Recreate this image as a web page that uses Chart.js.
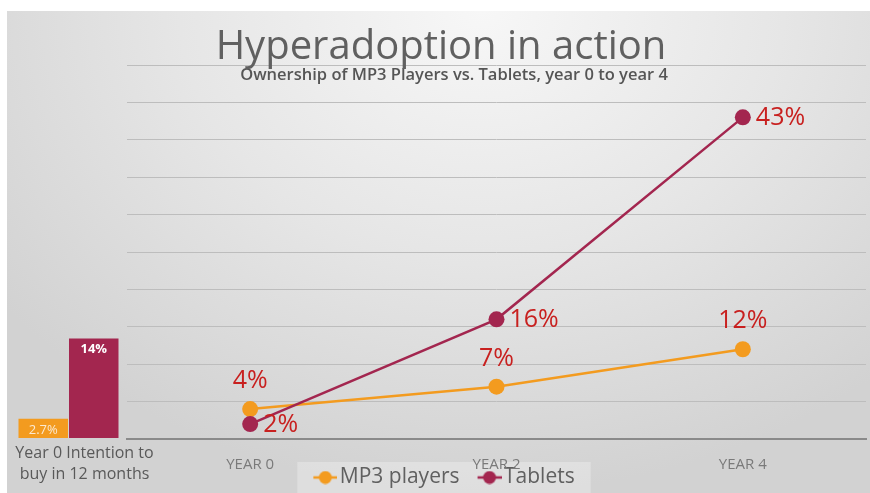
<!DOCTYPE html>
<html>
<head>
<meta charset="utf-8">
<script src="https://cdn.jsdelivr.net/npm/chart.js@4.4.1/dist/chart.umd.min.js"></script>
<style>
  body { margin: 0; background: #ffffff; }
  #wrap { position: relative; width: 870px; height: 493px; overflow: hidden; }
  #slide {
    position: absolute; left: 7px; top: 11px; right: 0; bottom: 0;
    background: radial-gradient(ellipse 70% 100% at 55% 0%, #f7f7f7 0%, #e6e6e6 50%, #d2d2d2 100%);
  }
  canvas { position: absolute; top: 0; left: 0; }
</style>
</head>
<body>
<div id="wrap">
  <div id="slide"></div>
  <canvas id="lineChart" width="870" height="493"></canvas>
  <canvas id="barChart" width="175" height="493"></canvas>
</div>
<script>
// Data
const years = ['YEAR 0', 'YEAR 2', 'YEAR 4'];
const mp3Values = [4, 7, 12];
const tabletValues = [2, 16, 43];

const intentLabel = [['Year 0 Intention to', 'buy in 12 months']];
const intentMp3 = [2.7];
const intentTablets = [14];

const titleText = 'Hyperadoption in action';
const subtitleText = 'Ownership of MP3 Players vs. Tablets, year 0 to year 4';

const orange = '#f39b1f';
const maroon = '#a3264f';
const labelRed = '#c8201f';

// legend marker: line through a dot, drawn at the right end of the canvas
function makeMarker(color) {
    const c = document.createElement('canvas');
    c.width = 50; c.height = 14;
    const g = c.getContext('2d');
    g.strokeStyle = color;
    g.lineWidth = 2.5;
    g.beginPath(); g.moveTo(26, 7); g.lineTo(50, 7); g.stroke();
    g.fillStyle = color;
    g.beginPath(); g.arc(38, 7, 6.5, 0, Math.PI * 2); g.fill();
    return c;
}

// value labels drawn next to each point / bar
const valueLabels = {
    id: 'valueLabels',
    afterDatasetsDraw(chart, args, opts) {
        const ctx = chart.ctx;
        ctx.save();
        chart.data.datasets.forEach((ds, di) => {
            const meta = chart.getDatasetMeta(di);
            const cfg = opts.sets[di];
            ctx.font = cfg.font;
            ctx.fillStyle = cfg.color;
            meta.data.forEach((el, i) => {
                const txt = ds.data[i] + '%';
                if (cfg.where === 'above') {
                    ctx.textAlign = 'center'; ctx.textBaseline = 'middle';
                    ctx.fillText(txt, el.x, el.y - 28);
                } else if (cfg.where === 'right') {
                    ctx.textAlign = 'left'; ctx.textBaseline = 'middle';
                    ctx.fillText(txt, el.x + 13, el.y + 1);
                } else {
                    ctx.textAlign = 'center'; ctx.textBaseline = 'middle';
                    ctx.fillText(txt, el.x, el.y + 11);
                }
            });
        });
        ctx.restore();
    }
};

// x labels may run into the legend strip (no clipping), legend and subtitle nudged, faint box behind legend
const legendBack = {
    id: 'legendBack',
    afterLayout(chart) {
        chart.scales.x.bottom = chart.height;
        const lg = chart.legend;
        lg.top += 5; lg.bottom += 5;
        lg.left -= 6; lg.right -= 6;
        chart.boxes.forEach(b => {
            if (b.options && b.options.text === subtitleText) {
                b.left += 13; b.right += 13;
            }
        });
    },
    beforeDraw(chart) {
        const lg = chart.legend;
        if (!lg || !lg.legendHitBoxes.length) return;
        const hb = lg.legendHitBoxes;
        const x0 = Math.min(...hb.map(h => h.left)) + 2;
        const x1 = Math.max(...hb.map(h => h.left + h.width)) + 16;
        const y0 = Math.min(...hb.map(h => h.top)) - 5;
        const ctx = chart.ctx;
        ctx.save();
        ctx.fillStyle = 'rgba(255,255,255,0.28)';
        ctx.fillRect(x0, y0, x1 - x0, chart.height - y0);
        ctx.restore();
    }
};

new Chart(document.getElementById('lineChart'), {
    type: 'line',
    data: {
        labels: years,
        datasets: [
            {
                label: 'MP3 players',
                data: mp3Values,
                borderColor: orange,
                backgroundColor: orange,
                borderWidth: 2.5,
                pointRadius: 8,
                pointBorderWidth: 0,
                pointStyle: 'circle',
                order: 1
            },
            {
                label: 'Tablets',
                data: tabletValues,
                borderColor: maroon,
                backgroundColor: maroon,
                borderWidth: 2.5,
                pointRadius: 8,
                pointBorderWidth: 0,
                pointStyle: 'circle',
                order: 0
            }
        ]
    },
    options: {
        responsive: false,
        animation: false,
        layout: { autoPadding: false, padding: { left: 16, right: 4, top: 0, bottom: 0 } },
        scales: {
            x: {
                offset: true,
                grid: { display: false },
                border: { color: '#8a8a8a', width: 2 },
                ticks: { color: '#7a7a7a', font: { family: 'Open Sans', size: 15 }, padding: 9 },
                afterFit: function(s) { s.height = 23; }
            },
            y: {
                min: 0,
                max: 50,
                ticks: { display: false, stepSize: 5 },
                border: { display: false },
                grid: { color: '#bdbdbd', lineWidth: 1, drawTicks: false },
                afterFit: function(s) { s.width = 111; }
            }
        },
        plugins: {
            title: {
                display: true,
                text: titleText,
                color: '#606060',
                font: { family: 'Open Sans', size: 40, weight: 'normal', lineHeight: 0.875 },
                padding: { top: 30, bottom: 0 }
            },
            subtitle: {
                display: true,
                text: subtitleText,
                color: '#555555',
                font: { family: 'Open Sans', size: 16.5, weight: '600', lineHeight: 1.2 },
                padding: { top: 0.1, bottom: -19.9 }
            },
            legend: {
                position: 'bottom',
                labels: {
                    usePointStyle: true,
                    pointStyleWidth: 34,
                    padding: 0,
                    color: '#606060',
                    font: { family: 'Open Sans', size: 21 },
                    generateLabels: function(chart) {
                        return chart.data.datasets.map((ds, i) => ({
                            text: ds.label,
                            pointStyle: makeMarker(ds.borderColor),
                            fillStyle: ds.borderColor,
                            strokeStyle: ds.borderColor,
                            lineWidth: 0,
                            fontColor: '#606060',
                            datasetIndex: i
                        }));
                    }
                }
            },
            tooltip: { enabled: false },
            valueLabels: {
                sets: [
                    { where: 'above', color: labelRed, font: '25px "Open Sans"' },
                    { where: 'right', color: labelRed, font: '25px "Open Sans"' }
                ]
            }
        }
    },
    plugins: [legendBack, valueLabels]
});

new Chart(document.getElementById('barChart'), {
    type: 'bar',
    data: {
        labels: intentLabel,
        datasets: [
            { label: 'MP3 players', data: intentMp3, backgroundColor: orange, barPercentage: 0.98, categoryPercentage: 1 },
            { label: 'Tablets', data: intentTablets, backgroundColor: maroon, barPercentage: 0.98, categoryPercentage: 1 }
        ]
    },
    options: {
        responsive: false,
        animation: false,
        layout: { padding: { left: 18, right: 56, top: 65, bottom: 0 } },
        scales: {
            x: {
                grid: { display: false },
                border: { display: false },
                ticks: {
                    color: '#595959',
                    font: { family: 'Open Sans', size: 16, lineHeight: 1.3 },
                    padding: -3,
                    labelOffset: 16,
                    maxRotation: 0
                },
                afterFit: function(s) {
                    s.height = 55;
                    s.paddingLeft = 0;
                    s.paddingRight = 0;
                }
            },
            y: { display: false, min: 0, max: 52.5 }
        },
        plugins: {
            legend: { display: false },
            tooltip: { enabled: false },
            valueLabels: {
                sets: [
                    { where: 'inside', color: '#fbe9d0', font: '13px "Open Sans"' },
                    { where: 'inside', color: '#ffffff', font: 'bold 13px "Open Sans"' }
                ]
            }
        }
    },
    plugins: [valueLabels]
});
</script>
</body>
</html>
